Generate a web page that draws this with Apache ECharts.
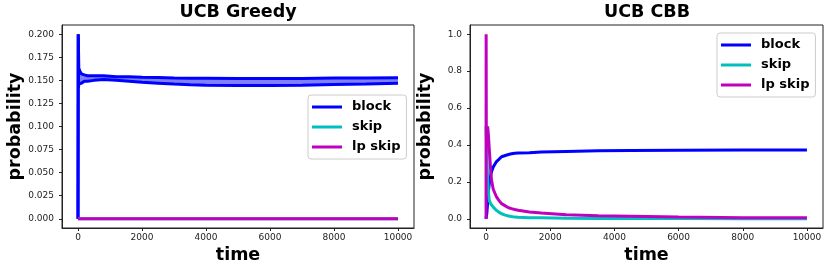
<!DOCTYPE html>
<html>
<head>
<meta charset="utf-8">
<script src="https://cdn.jsdelivr.net/npm/echarts@6/dist/echarts.min.js"></script>
<style>html,body{margin:0;padding:0;background:#fff;}#c{width:830px;height:272px;}</style>
</head>
<body>
<div id="c"></div>
<script>
// ---- data ----
var titles = ['UCB Greedy', 'UCB CBB'];
var seriesNames = ['block', 'skip', 'lp skip'];
var xTicks = [0, 2000, 4000, 6000, 8000, 10000];
var yTicksL = [0, 0.025, 0.05, 0.075, 0.1, 0.125, 0.15, 0.175, 0.2];
var yTicksR = [0, 0.2, 0.4, 0.6, 0.8, 1.0];

// left panel (UCB Greedy)
var timesL = [0, 8, 15, 25, 40, 60, 80, 110, 150, 200, 300, 500, 800, 1200, 1600, 2000, 2500, 3000, 3500, 4000, 5000, 6000, 7000, 8000, 9000, 10000];
var blockUpperL = [0, 0.2, 0.2, 0.163, 0.165, 0.16, 0.158, 0.157, 0.156, 0.156, 0.155, 0.155, 0.155, 0.154, 0.154, 0.1535, 0.153, 0.1525, 0.1522, 0.1522, 0.152, 0.152, 0.152, 0.1525, 0.1525, 0.1528];
var blockLowerL = [0, 0.2, 0.142, 0.146, 0.147, 0.146, 0.148, 0.147, 0.148, 0.149, 0.149, 0.15, 0.151, 0.15, 0.149, 0.148, 0.147, 0.146, 0.1452, 0.1448, 0.1445, 0.1445, 0.1447, 0.1455, 0.146, 0.147];
var timesZeroL = [0, 10000];
var skipL = [0, 0];
var lpSkipL = [0, 0];

// right panel (UCB CBB)
var timesR = [0, 3, 8, 25, 50, 75, 100, 118, 150, 171, 224, 260, 326, 400, 482, 600, 700, 793, 895, 1000, 1350, 1725, 2500, 3500, 4500, 6000, 8000, 10000];
var blockR = [0, 0, 0.005, 0.03, 0.09, 0.15, 0.19, 0.21, 0.24, 0.255, 0.28, 0.29, 0.31, 0.322, 0.336, 0.343, 0.348, 0.352, 0.355, 0.356, 0.358, 0.362, 0.365, 0.368, 0.37, 0.371, 0.372, 0.373];
var skipR = [0.5, 0.5, 0.45, 0.35, 0.22, 0.14, 0.1, 0.09, 0.08, 0.075, 0.063, 0.055, 0.045, 0.036, 0.027, 0.02, 0.015, 0.012, 0.009, 0.008, 0.006, 0.005, 0.003, 0.002, 0.0015, 0.001, 0.0007, 0.0005];
var lpSkipR = [0, 1.0, 0.5, 0.48, 0.5, 0.45, 0.44, 0.33, 0.25, 0.21, 0.16, 0.145, 0.118, 0.1, 0.082, 0.07, 0.06, 0.055, 0.05, 0.046, 0.037, 0.031, 0.022, 0.016, 0.013, 0.009, 0.006, 0.005];

// ---- styling ----
var BLUE = '#0000ff', CYAN = '#00bfbf', MAG = '#bf00bf';
var FONT = 'DejaVu Sans';

function pairs(xs, ys) { return xs.map(function (x, i) { return [x, ys[i]]; }); }

var grids = [
  { left: 62, top: 25, width: 352, height: 203 },
  { left: 470, top: 25, width: 353, height: 203 }
];

function xAxis(gi) {
  return {
    type: 'value', gridIndex: gi, min: -500, max: 10500,
    name: 'time', nameLocation: 'middle', nameGap: 12,
    nameTextStyle: { fontFamily: FONT, fontWeight: 'bold', fontSize: 17.5, color: '#000' },
    axisLine: { show: true, onZero: false, lineStyle: { color: '#222', width: 1 } },
    axisTick: { show: true, length: 3, customValues: xTicks, lineStyle: { color: '#222' } },
    axisLabel: { customValues: xTicks, fontFamily: FONT, fontSize: 9, color: '#222', margin: 5,
      formatter: function (v) { return String(v); } },
    splitLine: { show: false }
  };
}
function yAxis(gi, min, max, ticks, dec, gap) {
  return {
    type: 'value', gridIndex: gi, min: min, max: max,
    name: 'probability', nameLocation: 'middle', nameGap: gap, nameRotate: 90,
    nameTextStyle: { fontFamily: FONT, fontWeight: 'bold', fontSize: 17.5, color: '#000' },
    axisLine: { show: true, onZero: false, lineStyle: { color: '#222', width: 1 } },
    axisTick: { show: true, length: 3, customValues: ticks, lineStyle: { color: '#222' } },
    axisLabel: { customValues: ticks, fontFamily: FONT, fontSize: 9, color: '#222', margin: 8,
      formatter: function (v) { return Number(v).toFixed(dec); } },
    splitLine: { show: false }
  };
}
function line(name, gi, data, color, z) {
  return {
    type: 'line', name: name, xAxisIndex: gi, yAxisIndex: gi, data: data,
    showSymbol: false, symbol: 'none', animation: false, z: z,
    lineStyle: { color: color, width: 3 }, itemStyle: { color: color }
  };
}
function legend(left, top) {
  return {
    data: seriesNames, orient: 'vertical', left: left, top: top,
    icon: 'rect', itemWidth: 30, itemHeight: 3, itemGap: 6,
    padding: [5, 6, 5, 4],
    backgroundColor: 'rgba(255,255,255,0.8)', borderColor: '#cccccc', borderWidth: 1, borderRadius: 3,
    selectedMode: false,
    textStyle: { fontFamily: FONT, fontWeight: 'bold', fontSize: 13, color: '#000', lineHeight: 14, padding: [0, 0, 0, 5] }
  };
}

// band between lower and upper block runs (left panel), drawn as one polygon via the axes
var bandData = timesL.map(function (t, i) { return [t, blockLowerL[i], blockUpperL[i]]; });
var bandSeries = {
  type: 'custom', name: 'block band', xAxisIndex: 0, yAxisIndex: 0, z: 1,
  data: bandData, animation: false, silent: true, clip: true,
  encode: { x: 0, y: [1, 2] },
  renderItem: function (params, api) {
    if (params.dataIndex !== 0) return null;
    var pts = [];
    for (var i = 0; i < bandData.length; i++) pts.push(api.coord([bandData[i][0], bandData[i][1]]));
    for (var j = bandData.length - 1; j >= 0; j--) pts.push(api.coord([bandData[j][0], bandData[j][2]]));
    return { type: 'polygon', shape: { points: pts }, style: { fill: 'rgba(0,0,255,0.5)' } };
  }
};

var option = {
  backgroundColor: '#ffffff',
  animation: false,
  grid: grids.map(function (g) { return Object.assign({ show: true, borderColor: '#222', borderWidth: 1, containLabel: false }, g); }),
  xAxis: [xAxis(0), xAxis(1)],
  yAxis: [yAxis(0, -0.01, 0.21, yTicksL, 3, 36), yAxis(1, -0.05, 1.05, yTicksR, 1, 36)],
  legend: [legend(308, 95), legend(717, 33)],
  graphic: [
    { type: 'text', x: 238, y: 3, style: { text: titles[0], textAlign: 'center', textVerticalAlign: 'top', fontFamily: FONT, fontWeight: 'bold', fontSize: 17.5, fill: '#000' } },
    { type: 'text', x: 647, y: 3, style: { text: titles[1], textAlign: 'center', textVerticalAlign: 'top', fontFamily: FONT, fontWeight: 'bold', fontSize: 17.5, fill: '#000' } }
  ],
  series: [
    bandSeries,
    line('block', 0, pairs(timesL, blockUpperL), BLUE, 2),
    line('block_lower', 0, pairs(timesL, blockLowerL), BLUE, 2),
    line('skip', 0, pairs(timesZeroL, skipL), CYAN, 3),
    line('lp skip', 0, pairs(timesZeroL, lpSkipL), MAG, 4),
    line('block', 1, pairs(timesR, blockR), BLUE, 2),
    line('skip', 1, pairs(timesR, skipR), CYAN, 3),
    line('lp skip', 1, pairs(timesR, lpSkipR), MAG, 4)
  ]
};

var chart = echarts.init(document.getElementById('c'), null, { renderer: 'canvas' });
chart.setOption(option);
</script>
</body>
</html>
